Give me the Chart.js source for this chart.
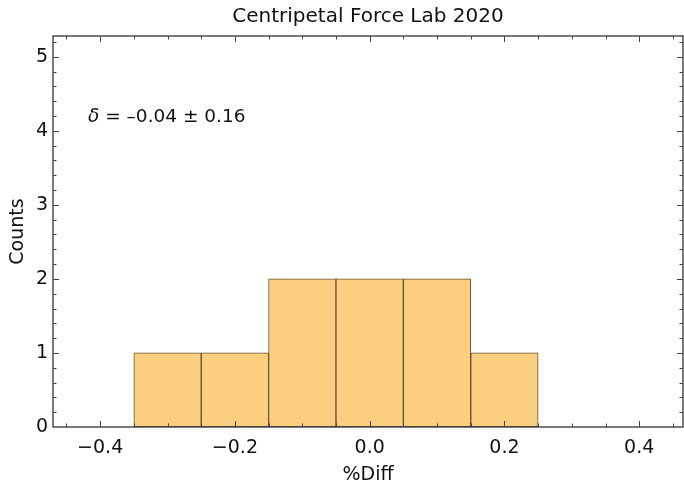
<!DOCTYPE html>
<html>
<head>
<meta charset="utf-8">
<script src="https://cdn.jsdelivr.net/npm/chart.js@4"></script>
<style>
  html, body { margin: 0; padding: 0; background: #fff; }
  #chart { display: block; }
</style>
</head>
<body>
<canvas id="chart" width="684" height="483"></canvas>
<script>
// histogram of %Diff values, bin width 0.1
const binCenters = [-0.3, -0.2, -0.1, 0.0, 0.1, 0.2];
const counts = [1, 1, 2, 2, 2, 1];
const xMajorTicks = [-0.4, -0.2, 0.0, 0.2, 0.4];
const yMajorTicks = [0, 1, 2, 3, 4, 5];
const titleText = 'Centripetal Force Lab 2020';
const statText = ['δ', ' = –0.04 ± 0.16'];

const FONT = "'DejaVu Sans', sans-serif";

function fmtX(v){
  if (Math.abs(v) < 1e-9) return '0.0';
  return (v < 0 ? '−' : '') + Math.abs(v).toFixed(1);
}

// Mathematica-style frame with inward ticks on all four sides
const framePlugin = {
  id: 'frame',
  afterDraw(chart){
    const {ctx, chartArea: a, scales: {x, y}} = chart;
    ctx.save();
    ctx.strokeStyle = '#222';
    ctx.lineWidth = 1.2;
    ctx.strokeRect(a.left, a.top, a.right - a.left, a.bottom - a.top);

    ctx.lineWidth = 1;
    ctx.strokeStyle = '#444';
    const xtick = (v, len) => {
      const px = Math.round(x.getPixelForValue(v)) + 0.5;
      if (px < a.left + 1 || px > a.right - 1) return;
      ctx.beginPath();
      ctx.moveTo(px, a.bottom); ctx.lineTo(px, a.bottom - len);
      ctx.moveTo(px, a.top); ctx.lineTo(px, a.top + len);
      ctx.stroke();
    };
    const ytick = (v, len) => {
      const py = Math.round(y.getPixelForValue(v)) + 0.5;
      if (py < a.top + 1 || py > a.bottom - 1) return;
      ctx.beginPath();
      ctx.moveTo(a.left, py); ctx.lineTo(a.left + len, py);
      ctx.moveTo(a.right, py); ctx.lineTo(a.right - len, py);
      ctx.stroke();
    };
    for (let i = -9; i <= 9; i++) {
      const v = i * 0.05;
      const major = xMajorTicks.some(t => Math.abs(t - v) < 1e-6);
      xtick(v, major ? 6 : 3.5);
    }
    for (let i = 0; i <= 26; i++) {
      const v = i * 0.2;
      const major = yMajorTicks.some(t => Math.abs(t - v) < 1e-6);
      ytick(v, major ? 6 : 3.5);
    }

    ctx.fillStyle = '#111';
    ctx.textBaseline = 'middle';

    // title, centred over the plot frame
    ctx.textAlign = 'center';
    ctx.font = '20px ' + FONT;
    ctx.fillText(titleText, (a.left + a.right) / 2, 17);

    // stat annotation
    const tx = x.getPixelForValue(-0.418);
    const ty = y.getPixelForValue(4.19);
    ctx.textAlign = 'left';
    ctx.font = 'italic 18.5px ' + FONT;
    ctx.fillText(statText[0], tx, ty);
    const w = ctx.measureText(statText[0]).width;
    ctx.font = '18.5px ' + FONT;
    ctx.fillText(statText[1], tx + w, ty);
    ctx.restore();
  }
};

new Chart(document.getElementById('chart'), {
  type: 'bar',
  data: {
    datasets: [{
      data: binCenters.map((c, i) => ({x: c, y: counts[i]})),
      backgroundColor: 'rgb(252,207,128)',
      borderColor: 'rgb(100,80,48)',
      borderWidth: 1,
      borderSkipped: false,
      barPercentage: 1,
      categoryPercentage: 1
    }]
  },
  options: {
    responsive: false,
    animation: false,
    layout: {padding: {left: 0, right: 1, top: 36, bottom: 0}},
    plugins: {
      legend: {display: false},
      tooltip: {enabled: false},
      title: {display: false}
    },
    scales: {
      x: {
        type: 'linear',
        offset: false,
        min: -0.47,
        max: 0.465,
        grid: {display: false, drawTicks: false, offset: false},
        border: {display: false},
        ticks: {
          stepSize: 0.2,
          includeBounds: false,
          padding: 10,
          color: '#111',
          maxRotation: 0,
          font: {family: FONT, size: 19},
          callback: v => fmtX(v)
        },
        title: {
          display: true,
          text: '%Diff',
          color: '#111',
          font: {family: FONT, size: 19},
          padding: {top: 0, bottom: -3}
        },
        afterFit: s => { s.height = 56; }
      },
      y: {
        type: 'linear',
        min: 0,
        max: 5.28,
        grid: {display: false, drawTicks: false},
        border: {display: false},
        ticks: {
          stepSize: 1,
          includeBounds: false,
          padding: 5,
          color: '#111',
          font: {family: FONT, size: 19}
        },
        title: {
          display: true,
          text: 'Counts',
          color: '#111',
          font: {family: FONT, size: 19},
          padding: {top: 7, bottom: 0}
        },
        afterFit: s => { s.width = 53; }
      }
    }
  },
  plugins: [framePlugin]
});
</script>
</body>
</html>
